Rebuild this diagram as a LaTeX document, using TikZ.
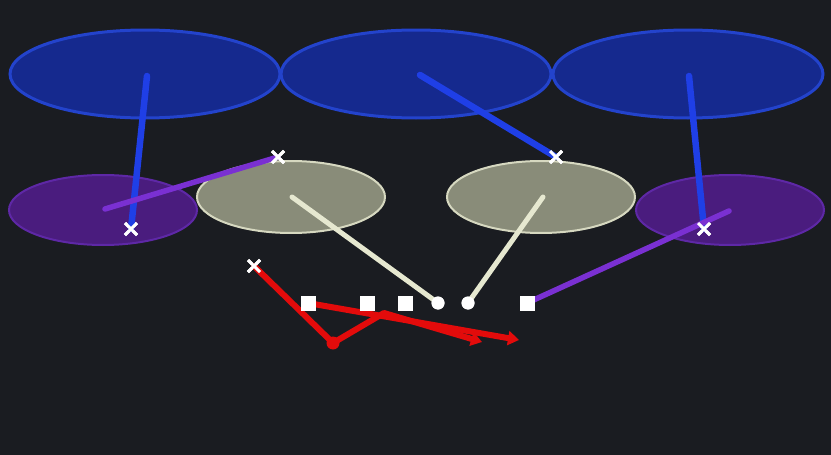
\documentclass[tikz,border=0pt]{standalone}
\usetikzlibrary{shapes.geometric,shapes.misc,arrows.meta}
\definecolor{bg}{HTML}{1A1C21}
\definecolor{zblue}{HTML}{15298E}
\definecolor{zblueedge}{HTML}{2343CC}
\definecolor{lblue}{HTML}{1F3FE6}
\definecolor{zpurple}{HTML}{4A1C7E}
\definecolor{zpurpleedge}{HTML}{5E28A6}
\definecolor{lpurple}{HTML}{7A30D2}
\definecolor{zgray}{HTML}{898C79}
\definecolor{zgrayedge}{HTML}{D6D8C0}
\definecolor{lwhite}{HTML}{E6E8D0}
\definecolor{lred}{HTML}{E30B0B}
\tikzset{
  bluezone/.style={ellipse, fill=zblue, draw=zblueedge, line width=3pt, minimum width=270pt, minimum height=88pt, inner sep=0pt},
  purplezone/.style={ellipse, fill=zpurple, draw=zpurpleedge, line width=2pt, minimum width=188pt, minimum height=70pt, inner sep=0pt},
  grayzone/.style={ellipse, fill=zgray, draw=zgrayedge, line width=2pt, minimum width=188pt, minimum height=72pt, inner sep=0pt},
  xmark/.style={cross out, draw=white, line width=3pt, minimum size=9pt, inner sep=0pt},
  sqplayer/.style={rectangle, fill=white, minimum size=15pt, inner sep=0pt},
  cplayer/.style={circle, fill=white, minimum size=13pt, inner sep=0pt},
  blueline/.style={draw=lblue, line width=6.5pt, line cap=round},
  purpleline/.style={draw=lpurple, line width=5.5pt, line cap=round},
  whiteline/.style={draw=lwhite, line width=5pt, line cap=round},
  redline/.style={draw=lred, line width=6pt, line cap=round, line join=round},
  redarrow/.style={redline, -{Triangle[length=11pt,width=14pt]}},
}
\begin{document}
\begin{tikzpicture}[x=1pt,y=-1pt]
\fill[bg] (0,0) rectangle (831,455);
\useasboundingbox (0,0) rectangle (831,455);
% deep zones
\node[bluezone] (zl) at (145,74) {};
\node[bluezone] (zm) at (416,74) {};
\node[bluezone] (zr) at (688,74) {};
% underneath zones
\node[purplezone] (pl) at (103,210) {};
\node[purplezone] (pr) at (730,210) {};
\node[grayzone] (gl) at (291,197) {};
\node[grayzone] (gr) at (541,197) {};
% players
\node[xmark] (x1) at (278,157) {};
\node[xmark] (x2) at (556,157) {};
\node[xmark] (x3) at (131,229) {};
\node[xmark] (x4) at (704,229) {};
\node[xmark] (x5) at (254,266) {};
\node[sqplayer] (s1) at (308,303) {};
\node[sqplayer] (s2) at (367,303) {};
\node[sqplayer] (s3) at (405,303) {};
\node[sqplayer] (s4) at (527,303) {};
\node[cplayer] (c1) at (438,303) {};
\node[cplayer] (c2) at (468,303) {};
% coordinates
\coordinate (bl0) at (147,76);
\coordinate (bm0) at (420,75);
\coordinate (br0) at (689,76);
\coordinate (pl0) at (105,209);
\coordinate (pr0) at (729,211);
\coordinate (gl0) at (292,197);
\coordinate (gr0) at (543,197);
\coordinate (j1) at (333,343);
\coordinate (j2) at (384,313);
\coordinate (a1) at (482,342);
\coordinate (a2) at (519,340);
% blue drops
\draw[blueline] (bl0) -- (x3.center);
\draw[blueline] (bm0) -- (x2.center);
\draw[blueline] (br0) -- (x4.center);
% purple drops
\draw[purpleline] (pl0) -- (x1.center);
\draw[purpleline] (pr0) -- (s4.center);
% gray drops
\draw[whiteline] (gl0) -- (c1.center);
\draw[whiteline] (gr0) -- (c2.center);
% red routes
\draw[redarrow] (s1.center) -- (a2);
\draw[redarrow] (x5.center) -- (j1) -- (j2) -- (a1);
\fill[lred] (j1) circle (6.5pt);
% redraw players on top
\node[xmark] at (x1) {};
\node[xmark] at (x2) {};
\node[xmark] at (x3) {};
\node[xmark] at (x4) {};
\node[xmark] at (x5) {};
\node[sqplayer] at (s1) {};
\node[sqplayer] at (s2) {};
\node[sqplayer] at (s3) {};
\node[sqplayer] at (s4) {};
\node[cplayer] at (c1) {};
\node[cplayer] at (c2) {};
\end{tikzpicture}
\end{document}
